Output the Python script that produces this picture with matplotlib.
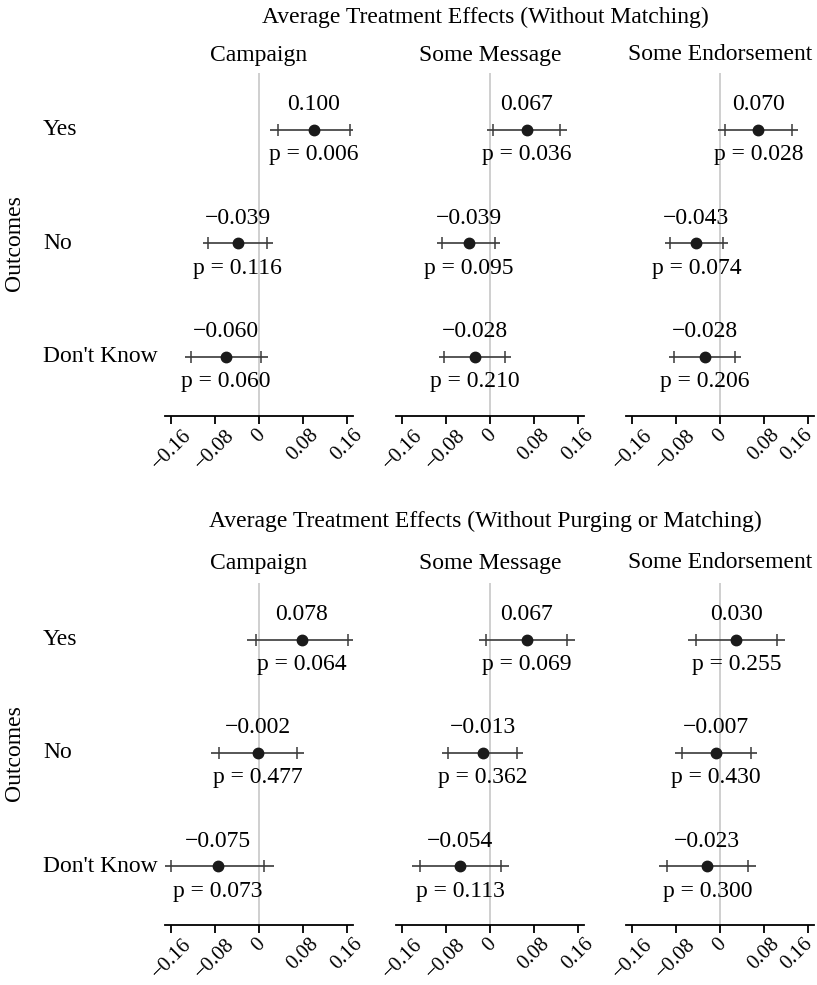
import matplotlib
matplotlib.use("Agg")
import matplotlib.pyplot as plt
from matplotlib.transforms import ScaledTranslation

# ---------------- data ----------------
treatments = ["Campaign", "Some Message", "Some Endorsement"]
outcomes = ["Yes", "No", "Don't Know"]
block_titles = ["Average Treatment Effects (Without Matching)",
                "Average Treatment Effects (Without Purging or Matching)"]
tick_values = [-0.16, -0.08, 0, 0.08, 0.16]
tick_labels = ["\u22120.16", "\u22120.08", "0", "0.08", "0.16"]

# rows: treatments, columns: outcomes (Yes, No, Don't Know)
est_top = [[0.100, -0.039, -0.060], [0.067, -0.039, -0.028], [0.070, -0.043, -0.028]]
p_top = [[0.006, 0.116, 0.060], [0.036, 0.095, 0.210], [0.028, 0.074, 0.206]]
lo95_top = [[0.021, -0.103, -0.136], [-0.006, -0.097, -0.094], [-0.003, -0.101, -0.094]]
hi95_top = [[0.179, 0.025, 0.016], [0.140, 0.019, 0.038], [0.143, 0.015, 0.038]]
lo90_top = [[0.034, -0.093, -0.124], [0.006, -0.088, -0.084], [0.009, -0.092, -0.084]]
hi90_top = [[0.166, 0.015, 0.004], [0.128, 0.010, 0.028], [0.131, 0.006, 0.028]]

est_bot = [[0.078, -0.002, -0.075], [0.067, -0.013, -0.054], [0.030, -0.007, -0.023]]
p_bot = [[0.064, 0.477, 0.073], [0.069, 0.362, 0.113], [0.255, 0.430, 0.300]]
lo95_bot = [[-0.022, -0.087, -0.177], [-0.021, -0.088, -0.142], [-0.058, -0.082, -0.111]]
hi95_bot = [[0.177, 0.083, 0.027], [0.155, 0.061, 0.034], [0.118, 0.068, 0.065]]
lo90_bot = [[-0.005, -0.073, -0.160], [-0.007, -0.076, -0.128], [-0.044, -0.070, -0.097]]
hi90_bot = [[0.162, 0.069, 0.010], [0.141, 0.050, 0.020], [0.104, 0.056, 0.051]]

# ---------------- layout ----------------
plt.rcParams['font.family'] = ['Liberation Serif', 'DejaVu Serif']
W, H = 817, 985
fig = plt.figure(figsize=(W / 100, H / 100), dpi=100)
FS = 17
TFS = 15

zero_x = [259, 490, 720]
XL = 0.172
px_per_unit = 547
half_w = XL * px_per_unit

blocks = [
    dict(title=block_titles[0], title_y=17, sub_y=55, ax_top=73, ax_bot=416,
         est=est_top, p=p_top, lo95=lo95_top, hi95=hi95_top, lo90=lo90_top, hi90=hi90_top),
    dict(title=block_titles[1], title_y=521, sub_y=563, ax_top=583, ax_bot=925,
         est=est_bot, p=p_bot, lo95=lo95_bot, hi95=hi95_bot, lo90=lo90_bot, hi90=hi90_bot),
]

line_col = "#3a3a3a"
dot_col = "#1a1a1a"

def fmt(v):
    s = f"{v:.3f}"
    return s.replace("-", "\u2212")

for b in blocks:
    fig.text(485 / W, 1 - b['title_y'] / H, b['title'], ha='center', va='center', fontsize=FS)
    for ti, tname in enumerate(treatments):
        x0 = zero_x[ti] - half_w
        ax = fig.add_axes([x0 / W, 1 - b['ax_bot'] / H, 2 * half_w / W,
                           (b['ax_bot'] - b['ax_top']) / H])
        ax.set_xlim(-XL, XL)
        ax.set_ylim(2.52, -0.5)
        for s in ['top', 'right', 'left']:
            ax.spines[s].set_visible(False)
        ax.spines['bottom'].set_linewidth(1.3)
        ax.set_yticks([])
        ax.set_xticks(tick_values)
        ax.set_xticklabels(tick_labels, rotation=45, ha='center', fontsize=TFS)
        ax.tick_params(axis='x', length=6, width=1.3, pad=1)
        if ti == len(treatments) - 1:
            lbl = ax.get_xticklabels()[-1]
            lbl.set_transform(lbl.get_transform() +
                              ScaledTranslation(-11 / 100, 0, fig.dpi_scale_trans))
        ax.axvline(0, color="#cfcfcf", lw=1.4, zorder=0)
        fig.text(zero_x[ti] / W, 1 - b['sub_y'] / H, tname, ha='center', va='center', fontsize=FS)
        for oi in range(len(outcomes)):
            e = b['est'][ti][oi]
            ax.plot([b['lo95'][ti][oi], b['hi95'][ti][oi]], [oi, oi], color=line_col, lw=1.2,
                    solid_capstyle='butt', zorder=2)
            ax.plot([b['lo90'][ti][oi], b['hi90'][ti][oi]], [oi, oi], ls='none', marker='|',
                    ms=8, mew=1.1, color=line_col, zorder=2)
            ax.plot([e], [oi], 'o', ms=7.5, color=dot_col, zorder=3)
            ax.annotate(fmt(e), (e, oi), xytext=(0, 18), textcoords='offset points',
                        ha='center', va='center', fontsize=FS, annotation_clip=False)
            ax.annotate(f"p = {b['p'][ti][oi]:.3f}", (e, oi), xytext=(0, -18),
                        textcoords='offset points', ha='center', va='center', fontsize=FS,
                        annotation_clip=False)
    # row labels
    rows_y = [b['ax_top'] + (k + 0.5) / 3.02 * (b['ax_bot'] - b['ax_top']) for k in range(3)]
    for k, lab in enumerate(outcomes):
        fig.text(43 / W, 1 - rows_y[k] / H, lab, ha='left', va='center', fontsize=FS)
    fig.text(15 / W, 1 - rows_y[1] / H, "Outcomes", rotation=90, ha='center', va='center',
             fontsize=FS)

fig.savefig("out.png", dpi=100)
